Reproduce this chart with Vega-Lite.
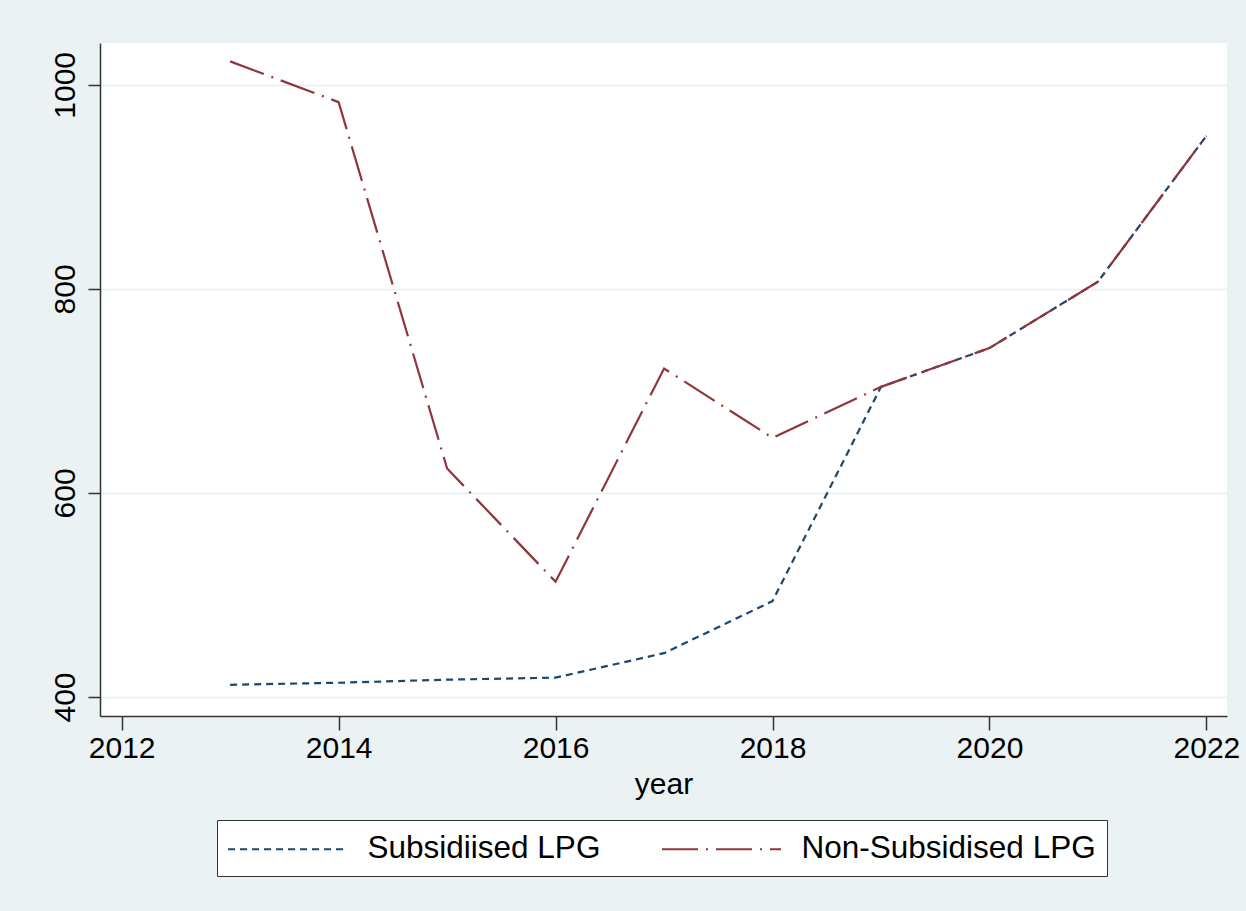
{
  "$schema": "https://vega.github.io/schema/vega-lite/v6.json",
  "autosize": "none",
  "width": 1127,
  "height": 673,
  "padding": {"left": 100, "top": 43, "right": 19, "bottom": 195},
  "background": "#EAF2F3",
  "config": {
    "view": {"fill": "white", "stroke": null},
    "font": "Liberation Sans"
  },
  "data": {
    "values": [
      {"year": 2013, "series": "Subsidiised LPG", "price": 412},
      {"year": 2014, "series": "Subsidiised LPG", "price": 414},
      {"year": 2015, "series": "Subsidiised LPG", "price": 417},
      {"year": 2016, "series": "Subsidiised LPG", "price": 419},
      {"year": 2017, "series": "Subsidiised LPG", "price": 443},
      {"year": 2018, "series": "Subsidiised LPG", "price": 494},
      {"year": 2019, "series": "Subsidiised LPG", "price": 704},
      {"year": 2020, "series": "Subsidiised LPG", "price": 742},
      {"year": 2021, "series": "Subsidiised LPG", "price": 807},
      {"year": 2022, "series": "Subsidiised LPG", "price": 950},
      {"year": 2013, "series": "Non-Subsidised LPG", "price": 1023},
      {"year": 2014, "series": "Non-Subsidised LPG", "price": 983},
      {"year": 2015, "series": "Non-Subsidised LPG", "price": 624},
      {"year": 2016, "series": "Non-Subsidised LPG", "price": 513},
      {"year": 2017, "series": "Non-Subsidised LPG", "price": 722},
      {"year": 2018, "series": "Non-Subsidised LPG", "price": 654},
      {"year": 2019, "series": "Non-Subsidised LPG", "price": 704},
      {"year": 2020, "series": "Non-Subsidised LPG", "price": 742},
      {"year": 2021, "series": "Non-Subsidised LPG", "price": 807},
      {"year": 2022, "series": "Non-Subsidised LPG", "price": 950}
    ]
  },
  "mark": {"type": "line", "strokeWidth": 2.2},
  "encoding": {
    "x": {
      "field": "year",
      "type": "quantitative",
      "scale": {"domain": [2011.8, 2022.19], "nice": false, "zero": false},
      "axis": {
        "values": [2012, 2014, 2016, 2018, 2020, 2022],
        "format": "d",
        "title": "year",
        "grid": false,
        "labelFontSize": 30,
        "titleFontSize": 30,
        "titleFontWeight": "normal",
        "labelColor": "#000",
        "titleColor": "#000",
        "tickSize": 14,
        "tickColor": "#333",
        "domainColor": "#333",
        "domainWidth": 1.5,
        "tickWidth": 1.5,
        "labelPadding": 3,
        "titlePadding": 6,
        "labelFlush": false
      }
    },
    "y": {
      "field": "price",
      "type": "quantitative",
      "scale": {"domain": [381.4, 1041], "nice": false, "zero": false},
      "axis": {
        "values": [400, 600, 800, 1000],
        "format": "d",
        "title": null,
        "grid": true,
        "gridColor": "#E4EEF0",
        "gridWidth": 1.5,
        "labelAngle": -90,
        "labelAlign": "center",
        "labelBaseline": "bottom",
        "labelFontSize": 30,
        "labelColor": "#000",
        "tickSize": 12,
        "tickColor": "#333",
        "domainColor": "#333",
        "domainWidth": 1.5,
        "tickWidth": 1.5,
        "labelPadding": 8,
        "labelFlush": false
      }
    },
    "color": {
      "field": "series",
      "type": "nominal",
      "scale": {"domain": ["Subsidiised LPG", "Non-Subsidised LPG"], "range": ["#1a476f", "#90353b"]},
      "legend": {
        "title": null,
        "orient": "none",
        "legendX": 117,
        "legendY": 777,
        "direction": "horizontal",
        "symbolType": "M-3.5,0H3.5",
        "symbolSize": 1156,
        "symbolStrokeWidth": 2,
        "symbolOffset": 41.5,
        "labelFontSize": 31.5,
        "labelColor": "#000",
        "labelOffset": 62,
        "columnPadding": 57,
        "padding": 11,
        "strokeColor": "#333",
        "fillColor": "white",
        "labelLimit": 600
      }
    },
    "strokeDash": {
      "field": "series",
      "type": "nominal",
      "scale": {"domain": ["Subsidiised LPG", "Non-Subsidised LPG"], "range": [[7, 5], [36, 8, 2, 8]]},
      "legend": {
        "title": null,
        "orient": "none",
        "legendX": 117,
        "legendY": 777,
        "direction": "horizontal",
        "symbolType": "M-3.5,0H3.5",
        "symbolSize": 1156,
        "symbolStrokeWidth": 2,
        "symbolOffset": 41.5,
        "labelFontSize": 31.5,
        "labelColor": "#000",
        "labelOffset": 62,
        "columnPadding": 57,
        "padding": 11,
        "strokeColor": "#333",
        "fillColor": "white",
        "labelLimit": 600
      }
    }
  }
}
